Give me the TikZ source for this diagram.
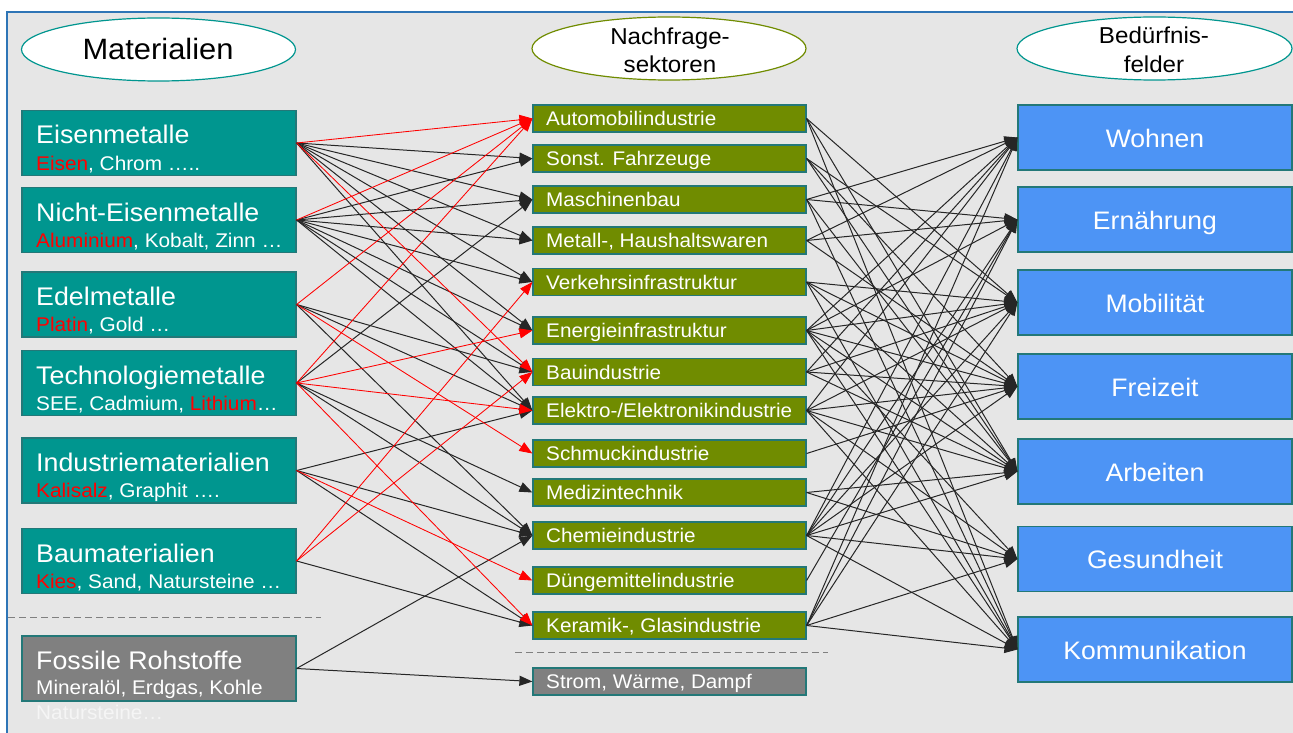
\documentclass[tikz,border=0pt]{standalone}
\usepackage{fontspec}
\setmainfont{Liberation Sans}[FakeStretch=1.05]
\usetikzlibrary{arrows.meta,shapes.geometric}
\definecolor{bgc}{RGB}{230,230,230}
\definecolor{framec}{RGB}{46,117,182}
\definecolor{tealc}{RGB}{0,150,143}
\definecolor{tealb}{RGB}{35,120,120}
\definecolor{olivec}{RGB}{112,140,0}
\definecolor{bluec}{RGB}{77,148,245}
\definecolor{grayc}{RGB}{128,128,128}
\definecolor{redc}{RGB}{255,0,0}
\definecolor{dashc}{RGB}{128,128,128}
\newcommand\fLhdr{\fontsize{25.5}{28}\selectfont}
\newcommand\fLsub{\fontsize{19.8}{22}\selectfont}
\newcommand\fMid{\fontsize{19.7}{22}\selectfont}
\newcommand\fRgt{\fontsize{25.3}{28}\selectfont}
\newcommand\fEbig{\fontsize{29.4}{32}\selectfont}
\newcommand\fEsm{\fontsize{23}{26}\selectfont}
\newcommand\rd[1]{\textcolor{redc}{#1}}
\begin{document}
\begin{tikzpicture}[x=1pt,y=-1pt,
  lbox/.style={draw=tealb,line width=1.2pt,fill=tealc,minimum width=274pt,minimum height=65pt,inner sep=0pt},
  gbox/.style={draw=tealb,line width=1.2pt,fill=grayc,minimum width=274pt,minimum height=65pt,inner sep=0pt},
  mbox/.style={draw=tealb,line width=1.2pt,fill=olivec,minimum width=273pt,minimum height=27pt,inner sep=0pt},
  mgbox/.style={draw=tealb,line width=1.2pt,fill=grayc,minimum width=273pt,minimum height=27pt,inner sep=0pt},
  rbox/.style={draw=tealb,line width=1.2pt,fill=bluec,minimum width=274pt,minimum height=65pt,inner sep=0pt},
  ell/.style={ellipse,draw=tealc,line width=1.2pt,fill=white,minimum width=274pt,minimum height=63pt,inner sep=0pt},
  ltitle/.style={font=\fLhdr,text=white,inner sep=0pt,anchor=base west},
  lsub/.style={font=\fLsub,text=white,inner sep=0pt,anchor=base west},
  mtxt/.style={font=\fMid,text=white,inner sep=0pt,anchor=base west},
  rtxt/.style={font=\fRgt,text=white,inner sep=0pt,anchor=base},
  etxt/.style={text=black,inner sep=0pt,anchor=base},
  kline/.style={draw=black!85,line width=1pt,-{Triangle[length=13pt,width=10pt]}},
  rline/.style={draw=redc,line width=0.85pt,-{Triangle[length=13pt,width=10pt]}},
  sepline/.style={draw=dashc,line width=1pt,dash pattern=on 7pt off 4pt}
]
\useasboundingbox (0,0) rectangle (1293,733);
\fill[white] (0,0) rectangle (1293,733);
\fill[bgc] (7,12) rectangle (1293,733);
\draw[framec,line width=1.5pt] (7,733) -- (7,12) -- (1293,12);

% ellipses
\node[ell] (E1) at (158.5,49.5) {};
\node[ell,draw=olivec] (E2) at (669,48.5) {};
\node[ell,minimum width=275pt] (E3) at (1154.5,48.5) {};
\node[etxt,font=\fEbig] (E1t) at (158,60) {Materialien};
\node[etxt,font=\fEsm] (E2a) at (670,45) {Nachfrage-};
\node[etxt,font=\fEsm] (E2b) at (670,73) {sektoren};
\node[etxt,font=\fEsm] (E3a) at (1154,44) {Bedürfnis-};
\node[etxt,font=\fEsm] (E3b) at (1154,73) {felder};

% left boxes
\node[lbox] (L1) at (159,143) {};
\node[lbox] (L2) at (159,220) {};
\node[lbox] (L3) at (159,304.5) {};
\node[lbox] (L4) at (159,383) {};
\node[lbox] (L5) at (159,470.5) {};
\node[lbox] (L6) at (159,561) {};
\node[gbox] (L7) at (159,668.5) {};

% middle boxes
\node[mbox] (M1) at (669.5,118.5) {};
\node[mbox] (M2) at (669.5,158.5) {};
\node[mbox] (M3) at (669.5,199.5) {};
\node[mbox] (M4) at (669.5,240.5) {};
\node[mbox] (M5) at (669.5,282) {};
\node[mbox] (M6) at (669.5,330.5) {};
\node[mbox] (M7) at (669.5,372) {};
\node[mbox] (M8) at (669.5,410.5) {};
\node[mbox] (M9) at (669.5,453.5) {};
\node[mbox] (M10) at (669.5,492.5) {};
\node[mbox] (M11) at (669.5,535.5) {};
\node[mbox] (M12) at (669.5,580.5) {};
\node[mbox] (M13) at (669.5,625.5) {};
\node[mgbox] (M14) at (669.5,681.5) {};

% right boxes
\node[rbox] (R1) at (1155,137.5) {};
\node[rbox] (R2) at (1155,219.5) {};
\node[rbox] (R3) at (1155,302.5) {};
\node[rbox] (R4) at (1155,386.5) {};
\node[rbox] (R5) at (1155,471.5) {};
\node[rbox] (R6) at (1155,559) {};
\node[rbox] (R7) at (1155,649.5) {};

% separators
\draw[sepline] (8,617) -- (321,617);
\draw[sepline] (515,652) -- (828,652);

% left -> middle connectors
\foreach \s/\t in {L1/M2,L1/M3,L1/M4,L1/M5,L1/M6,L1/M8,
                   L2/M2,L2/M3,L2/M4,L2/M5,L2/M6,L2/M7,L2/M8,
                   L3/M7,L3/M8,L3/M11,
                   L4/M3,L4/M10,L4/M11,
                   L5/M8,L5/M11,L5/M13,
                   L6/M13,
                   L7/M11,L7/M14}
  \draw[kline] (\s.east) -- (\t.west);
\foreach \s/\t in {L1/M1,L1/M7,L2/M1,L3/M1,L3/M9,L4/M1,L4/M6,L4/M8,L4/M13,
                   L5/M12,L6/M5,L6/M7}
  \draw[rline] (\s.east) -- (\t.west);

% middle -> right connectors
\foreach \s/\t in {M1/R3,M1/R5,M1/R7,
                   M2/R3,M2/R4,M2/R5,
                   M3/R1,M3/R2,M3/R5,M3/R7,
                   M4/R1,M4/R2,M4/R4,
                   M5/R3,M5/R4,M5/R5,M5/R7,
                   M6/R1,M6/R2,M6/R3,M6/R4,M6/R5,M6/R6,M6/R7,
                   M7/R1,M7/R3,M7/R4,M7/R5,
                   M8/R1,M8/R3,M8/R4,M8/R5,M8/R6,M8/R7,
                   M9/R4,
                   M10/R5,M10/R6,
                   M11/R1,M11/R2,M11/R3,M11/R4,M11/R5,M11/R6,M11/R7,
                   M12/R2,
                   M13/R1,M13/R2,M13/R3,M13/R6,M13/R7}
  \draw[kline] (\s.east) -- (\t.west);

% left texts
\node[ltitle] (L1a) at (36,144) {Eisenmetalle};
\node[lsub] (L1b) at (36,170) {\rd{Eisen}, Chrom …..};
\node[ltitle] (L2a) at (36,221) {Nicht-Eisenmetalle};
\node[lsub] (L2b) at (36,247) {\rd{Aluminium}, Kobalt, Zinn …};
\node[ltitle] (L3a) at (36,305) {Edelmetalle};
\node[lsub] (L3b) at (36,331) {\rd{Platin}, Gold …};
\node[ltitle] (L4a) at (36,384) {Technologiemetalle};
\node[lsub] (L4b) at (36,410) {SEE, Cadmium, \rd{Lithium}…};
\node[ltitle] (L5a) at (36,471) {Industriematerialien};
\node[lsub] (L5b) at (36,497) {\rd{Kalisalz}, Graphit ….};
\node[ltitle] (L6a) at (36,562) {Baumaterialien};
\node[lsub] (L6b) at (36,588) {\rd{Kies}, Sand, Natursteine …};
\node[ltitle] (L7a) at (36,669) {Fossile Rohstoffe};
\node[lsub] (L7b) at (36,694) {Mineralöl, Erdgas, Kohle};
\node[lsub,text=white!96!black] (L7c) at (36,719) {Natursteine…};

% middle texts
\node[mtxt] at (546,125.5) {Automobilindustrie};
\node[mtxt] at (546,165.5) {Sonst. Fahrzeuge};
\node[mtxt] at (546,206.5) {Maschinenbau};
\node[mtxt] at (546,247.5) {Metall-, Haushaltswaren};
\node[mtxt] at (546,289) {Verkehrsinfrastruktur};
\node[mtxt] at (546,337.5) {Energieinfrastruktur};
\node[mtxt] at (546,379) {Bauindustrie};
\node[mtxt] at (546,417.5) {Elektro-/Elektronikindustrie};
\node[mtxt] at (546,460.5) {Schmuckindustrie};
\node[mtxt] at (546,499.5) {Medizintechnik};
\node[mtxt] at (546,542.5) {Chemieindustrie};
\node[mtxt] at (546,587.5) {Düngemittelindustrie};
\node[mtxt] at (546,632.5) {Keramik-, Glasindustrie};
\node[mtxt] at (546,688.5) {Strom, Wärme, Dampf};

% right texts
\node[rtxt] at (1155,147) {Wohnen};
\node[rtxt] at (1155,229) {Ernährung};
\node[rtxt] at (1155,312) {Mobilität};
\node[rtxt] at (1155,396) {Freizeit};
\node[rtxt] at (1155,481) {Arbeiten};
\node[rtxt] at (1155,568.5) {Gesundheit};
\node[rtxt] at (1155,659) {Kommunikation};
\end{tikzpicture}
\end{document}
